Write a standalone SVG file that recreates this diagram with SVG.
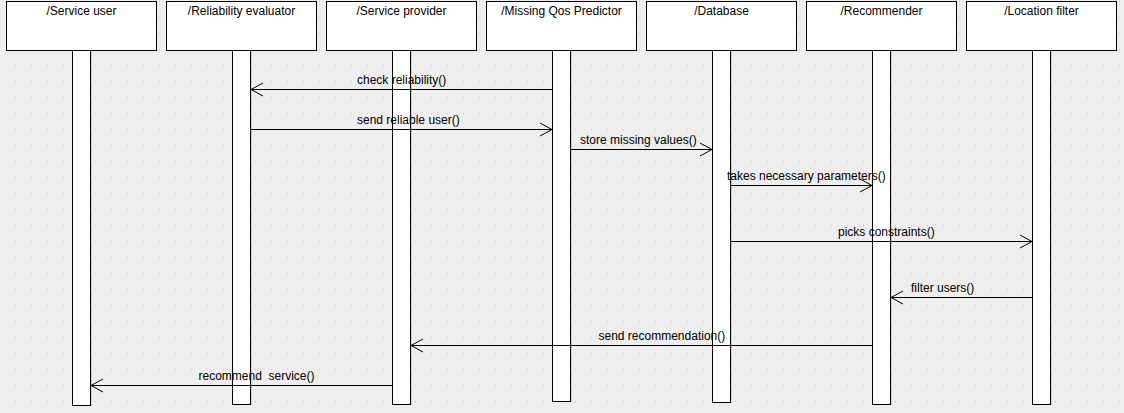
<svg xmlns="http://www.w3.org/2000/svg" width="1124" height="413" viewBox="0 0 1124 413">
<style>
text{font-family:"Liberation Sans",Arial,sans-serif;font-size:12px;fill:#000}
.hd{text-anchor:middle}
.box{fill:#fff;stroke:#000;stroke-width:1}
.bar{fill:#fff;stroke:#000;stroke-width:1}
.sh{stroke:#cfcfcf;stroke-width:1}
.msg{stroke:#000;stroke-width:1;fill:none}
.ah{stroke:#000;stroke-width:1;fill:none}
</style>
<defs>
<pattern id="dots" x="0" y="0" width="16" height="16" patternUnits="userSpaceOnUse">
<rect x="15" y="1" width="1" height="1" fill="#c4c4c4"/>
</pattern>
</defs>
<rect x="0" y="0" width="1124" height="413" fill="#eeeeee"/>
<rect x="0" y="0" width="1124" height="413" fill="url(#dots)"/>

<g id="node-service-user">
<rect class="box" x="6.5" y="1.5" width="150" height="49"/>
<text class="hd" x="81.5" y="15">/Service user</text>
<line class="sh" x1="91.5" y1="52" x2="91.5" y2="406"/>
<rect class="bar" x="72.5" y="50.5" width="18" height="355"/>
</g>
<g id="node-reliability-evaluator">
<rect class="box" x="166.5" y="1.5" width="150" height="49"/>
<text class="hd" x="241.5" y="15">/Reliability evaluator</text>
<line class="sh" x1="251.5" y1="52" x2="251.5" y2="405"/>
<rect class="bar" x="232.5" y="50.5" width="18" height="354"/>
</g>
<g id="node-service-provider">
<rect class="box" x="326.5" y="1.5" width="150" height="49"/>
<text class="hd" x="401.5" y="15">/Service provider</text>
<line class="sh" x1="411.5" y1="52" x2="411.5" y2="405"/>
<rect class="bar" x="392.5" y="50.5" width="18" height="354"/>
</g>
<g id="node-missing-qos-predictor">
<rect class="box" x="486.5" y="1.5" width="150" height="49"/>
<text class="hd" x="561.5" y="15">/Missing Qos Predictor</text>
<line class="sh" x1="571.5" y1="52" x2="571.5" y2="402"/>
<rect class="bar" x="552.5" y="50.5" width="18" height="351"/>
</g>
<g id="node-database">
<rect class="box" x="646.5" y="1.5" width="150" height="49"/>
<text class="hd" x="721.5" y="15">/Database</text>
<line class="sh" x1="731.5" y1="52" x2="731.5" y2="403"/>
<rect class="bar" x="712.5" y="50.5" width="18" height="352"/>
</g>
<g id="node-recommender">
<rect class="box" x="806.5" y="1.5" width="150" height="49"/>
<text class="hd" x="881.5" y="15">/Recommender</text>
<line class="sh" x1="891.5" y1="52" x2="891.5" y2="405"/>
<rect class="bar" x="872.5" y="50.5" width="18" height="354"/>
</g>
<g id="node-location-filter">
<rect class="box" x="966.5" y="1.5" width="150" height="49"/>
<text class="hd" x="1041.5" y="15">/Location filter</text>
<line class="sh" x1="1051.5" y1="52" x2="1051.5" y2="405"/>
<rect class="bar" x="1032.5" y="50.5" width="18" height="354"/>
</g>

<g id="connectors">
<line class="msg" x1="552" y1="89.5" x2="251" y2="89.5"/>
<polyline class="ah" points="263,83 251,89.5 263,96"/>
<text x="357" y="84">check reliability()</text>

<line class="msg" x1="251" y1="129.5" x2="552" y2="129.5"/>
<polyline class="ah" points="540,123 552,129.5 540,136"/>
<text x="357" y="124">send reliable user()</text>

<line class="msg" x1="571" y1="149.5" x2="712" y2="149.5"/>
<polyline class="ah" points="700,143 712,149.5 700,156"/>
<text x="580" y="144">store missing values()</text>

<line class="msg" x1="731" y1="185.5" x2="872" y2="185.5"/>
<polyline class="ah" points="860,179 872,185.5 860,192"/>
<text x="727" y="180">takes necessary parameters()</text>

<line class="msg" x1="731" y1="241.5" x2="1032" y2="241.5"/>
<polyline class="ah" points="1020,235 1032,241.5 1020,248"/>
<text x="838" y="236">picks constraints()</text>

<line class="msg" x1="1032" y1="297.5" x2="891" y2="297.5"/>
<polyline class="ah" points="903,291 891,297.5 903,304"/>
<text x="911" y="292">filter users()</text>

<line class="msg" x1="872" y1="345.5" x2="411" y2="345.5"/>
<polyline class="ah" points="423,339 411,345.5 423,352"/>
<text x="598.5" y="340">send recommendation()</text>

<line class="msg" x1="392" y1="385.5" x2="91" y2="385.5"/>
<polyline class="ah" points="103,379 91,385.5 103,392"/>
<text x="198.5" y="380" xml:space="preserve">recommend  service()</text>
</g>
</svg>
